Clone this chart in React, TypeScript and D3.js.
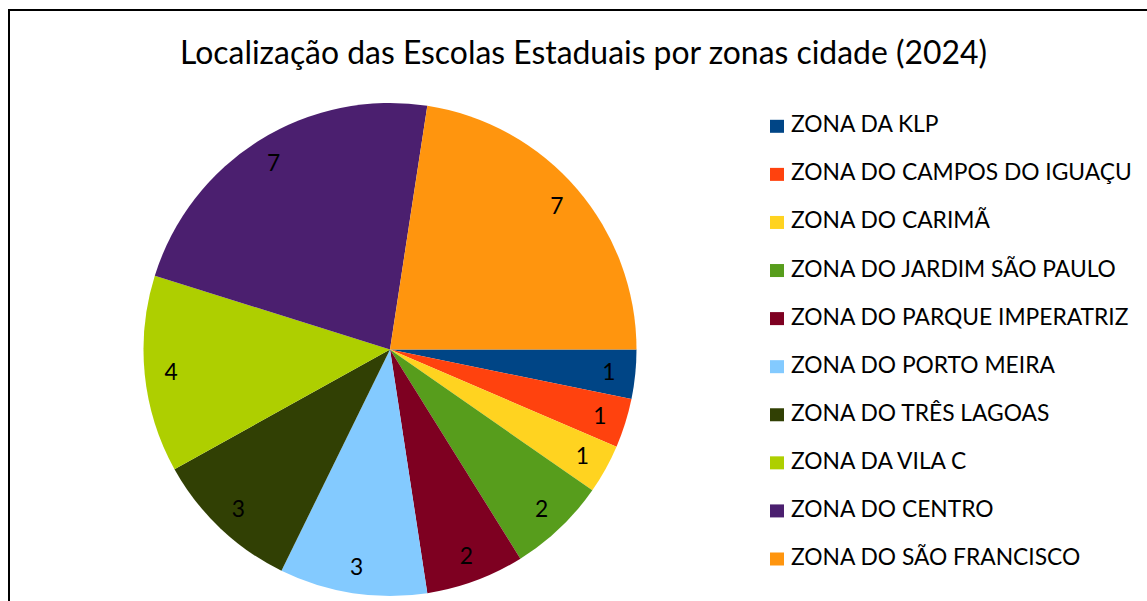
import React, { useEffect, useRef } from "react";
import * as d3 from "d3";

const title = "Localização das Escolas Estaduais por zonas cidade (2024)";
const zones = [
  "ZONA DA KLP",
  "ZONA DO CAMPOS DO IGUAÇU",
  "ZONA DO CARIMÃ",
  "ZONA DO JARDIM SÃO PAULO",
  "ZONA DO PARQUE IMPERATRIZ",
  "ZONA DO PORTO MEIRA",
  "ZONA DO TRÊS LAGOAS",
  "ZONA DA VILA C",
  "ZONA DO CENTRO",
  "ZONA DO SÃO FRANCISCO",
];
const schools = [1, 1, 1, 2, 2, 3, 3, 4, 7, 7];
const colors = [
  "#004586",
  "#ff420e",
  "#ffd320",
  "#579d1c",
  "#7e0021",
  "#83caff",
  "#314004",
  "#aecf00",
  "#4b1f6f",
  "#ff950e",
];

const W = 1147;
const H = 601;
const FONT = "Lato, 'Open Sans', sans-serif";

export default function App() {
  const ref = useRef<SVGSVGElement>(null);
  useEffect(() => {
    const svg = d3.select(ref.current);
    svg.selectAll("*").remove();

    svg.append("rect").attr("width", W).attr("height", H).attr("fill", "#fff");
    svg
      .append("rect")
      .attr("x", 9)
      .attr("y", 10)
      .attr("width", W + 20)
      .attr("height", H + 20)
      .attr("fill", "none")
      .attr("stroke", "#000")
      .attr("stroke-width", 2);

    svg
      .append("text")
      .attr("x", 583.5)
      .attr("y", 64)
      .attr("text-anchor", "middle")
      .attr("font-family", FONT)
      .attr("font-size", 31.9)
      .attr("fill", "#000")
      .text(title);

    const cx = 390, cy = 349.5, r = 246.5;
    const data = zones.map((z, i) => ({ z, v: schools[i], c: colors[i] }));
    const pie = d3
      .pie<any>()
      .value((d) => d.v)
      .sort(null)
      .startAngle(Math.PI / 2)
      .endAngle(Math.PI / 2 + 2 * Math.PI);
    const arcs = pie(data);
    const arc = d3.arc<any>().innerRadius(0).outerRadius(r);
    const labelArc = d3.arc<any>().innerRadius(220).outerRadius(220);

    const g = svg.append("g").attr("transform", `translate(${cx},${cy})`);
    g.selectAll("path")
      .data(arcs)
      .join("path")
      .attr("d", arc as any)
      .attr("fill", (d: any) => d.data.c);

    g.selectAll("text.lbl")
      .data(arcs)
      .join("text")
      .attr("class", "lbl")
      .attr("transform", (d: any) => {
        const [x, y] = labelArc.centroid(d);
        return `translate(${x},${y})`;
      })
      .attr("text-anchor", "middle")
      .attr("dy", "0.36em")
      .attr("font-family", FONT)
      .attr("font-size", 22.8)
      .attr("fill", "#000")
      .text((d: any) => d.data.v);

    const leg = svg.append("g");
    const rowY = d3.scaleLinear().domain([0, zones.length - 1]).range([132.3, 565]);
    data.forEach((d, i) => {
      const y = rowY(i);
      leg
        .append("rect")
        .attr("x", 770)
        .attr("y", y - 12.5)
        .attr("width", 14)
        .attr("height", 13)
        .attr("fill", d.c);
      leg
        .append("text")
        .attr("x", 791)
        .attr("y", y)
        .attr("font-family", FONT)
        .attr("font-size", 22.8)
        .attr("fill", "#000")
        .text(d.z);
    });
  }, []);
  return (
    <svg
      ref={ref}
      width={W}
      height={H}
      style={{ position: "absolute", left: 0, top: 0 }}
    />
  );
}
